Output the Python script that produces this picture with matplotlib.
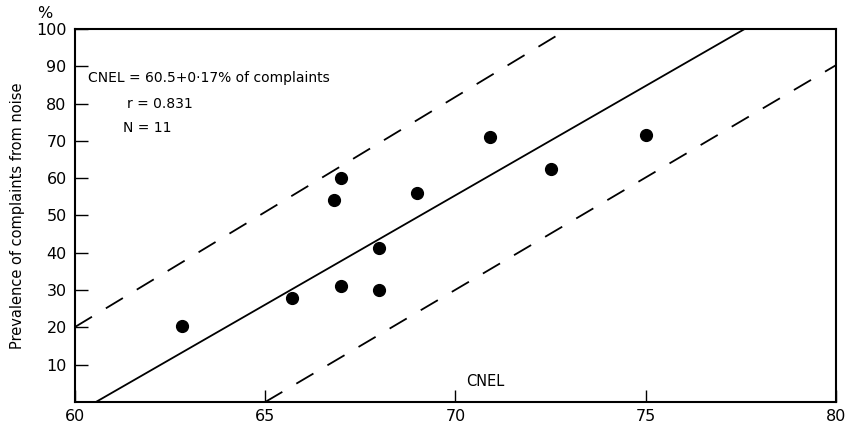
import matplotlib
matplotlib.use("Agg")
import matplotlib.pyplot as plt

# Data
cnel = [62.8, 65.7, 66.8, 67.0, 67.0, 68.0, 68.0, 69.0, 70.9, 72.5, 75.0]
prevalence = [20.4, 27.8, 54.2, 60.0, 31.0, 41.2, 30.0, 56.0, 71.1, 62.4, 71.5]

fit_x = [60.55, 77.6]
fit_y = [0, 100]
upper_x = [60.0, 72.95]
upper_y = [20.1, 100]
lower_x = [65.0, 80.0]
lower_y = [0, 90.3]

xticks = [60, 65, 70, 75, 80]
yticks = [10, 20, 30, 40, 50, 60, 70, 80, 90, 100]

plt.rcParams['font.family'] = ['DejaVu Sans']

fig = plt.figure(figsize=(8.5, 4.24), dpi=100)
ax = fig.add_axes([0.0882, 0.0519, 0.8953, 0.8797])

ax.plot(fit_x, fit_y, color='black', lw=1.3)
ax.plot(upper_x, upper_y, color='black', lw=1.3, dashes=(11, 9))
ax.plot(lower_x, lower_y, color='black', lw=1.3, dashes=(11, 9))
ax.plot(cnel, prevalence, 'o', color='black', ms=8.5, ls='none')

ax.set_xlim(60, 80)
ax.set_ylim(0, 100)
ax.set_xticks(xticks)
ax.set_yticks(yticks)
ax.tick_params(axis='both', direction='in', length=9, width=1.0, labelsize=11.5, colors='black')
ax.tick_params(axis='y', pad=6)
ax.tick_params(axis='x', pad=5)
for s in ax.spines.values():
    s.set_linewidth(1.5)

ax.set_ylabel('Prevalence of complaints from noise', fontsize=10.5, labelpad=8)
fig.text(45 / 850, 1 - 14 / 424, '%', fontsize=11.5, ha='center', va='center')

ax.text(70.29, 5.6, 'CNEL', fontsize=10.5, ha='left', va='center')
ax.text(60.34, 86.9, 'CNEL = 60.5+0·17% of complaints', fontsize=10, ha='left', va='center')
ax.text(61.37, 79.9, 'r = 0.831', fontsize=10, ha='left', va='center')
ax.text(61.26, 73.5, 'N = 11', fontsize=10, ha='left', va='center')

fig.savefig('out.png', dpi=100)
